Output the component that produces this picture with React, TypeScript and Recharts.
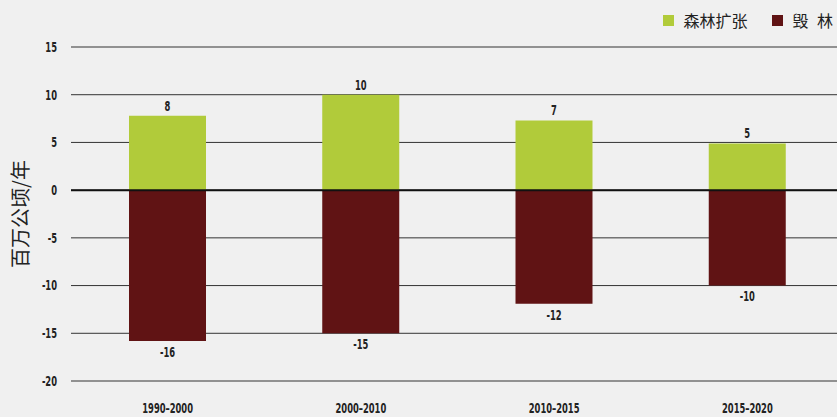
import React from "react";
import { BarChart, Bar, XAxis, YAxis, CartesianGrid, ReferenceLine, LabelList, Legend } from "recharts";

const periods = ["1990–2000", "2000–2010", "2010–2015", "2015–2020"];
const expansion = [7.8, 10.0, 7.3, 4.9];
const deforestation = [-15.8, -15.0, -11.9, -10.0];
const yTicks = [-20, -15, -10, -5, 0, 5, 10, 15];

const GREEN = "#b1cb3a";
const RED = "#601314";
const TEXT = "#222222";
const NUM_FONT = "'DejaVu Sans', sans-serif";
const CJK_FONT = "'Noto Sans CJK SC', 'Noto Sans', sans-serif";
const NUM_SIZE = 13.5;
const SQUEEZE = 0.62;
const CAP = NUM_SIZE * 0.73;

const data = periods.map((p, i) => ({ period: p, expansion: expansion[i], deforestation: deforestation[i] }));

const legendItems = [
  { label: "森林扩张", color: GREEN },
  { label: "毁 林", color: RED },
];

const CondText = ({ x, y, value, anchor }: { x: number; y: number; value: any; anchor: "start" | "middle" | "end" }) => (
  <text
    transform={`translate(${x},${y}) scale(${SQUEEZE},1)`}
    textAnchor={anchor}
    fill={TEXT}
    fontFamily={NUM_FONT}
    fontSize={NUM_SIZE}
    fontWeight={700}
  >
    {value}
  </text>
);

const XTick = (props: any) => <CondText x={props.x} y={413} value={props.payload.value} anchor="middle" />;
const YTick = (props: any) => <CondText x={props.x} y={props.y + CAP / 2} value={props.payload.value} anchor="end" />;

const BarLabel = (props: any) => {
  const vb = props.viewBox || props;
  const x = Number(vb.x);
  const y = Number(vb.y);
  const w = Number(vb.width);
  const h = Number(vb.height);
  const top = Math.min(y, y + h);
  const bottom = Math.max(y, y + h);
  const v = Math.round(Number(props.value));
  const cx = x + w / 2;
  if (v >= 0) return <CondText x={cx} y={top - 5} value={String(v)} anchor="middle" />;
  return <CondText x={cx} y={bottom + 6 + CAP} value={String(v)} anchor="middle" />;
};

const LegendContent = () => (
  <div style={{ height: 30, display: "flex", justifyContent: "flex-end", alignItems: "flex-start", fontFamily: CJK_FONT, fontSize: 16, color: TEXT }}>
    {legendItems.map((it, i) => (
      <div key={i} style={{ display: "flex", alignItems: "center", marginLeft: i === 0 ? 0 : 25, lineHeight: "20px" }}>
        <span style={{ display: "inline-block", width: 11, height: 11, background: it.color, marginRight: 9 }} />
        <span style={{ wordSpacing: 5 }}>{it.label}</span>
      </div>
    ))}
  </div>
);

export default function App() {
  return (
    <div style={{ position: "fixed", left: 0, top: 0, width: 837, height: 417, overflow: "hidden", background: "#f0f0f0" }}>
      <BarChart
        width={850}
        height={417}
        data={data}
        stackOffset="sign"
        margin={{ top: 17, right: 6, bottom: 0, left: 0 }}
        barSize={77}
      >
        <Legend verticalAlign="top" align="right" content={<LegendContent />} wrapperStyle={{ top: 10, right: 17, width: 300, left: "auto" }} />
        <CartesianGrid vertical={false} stroke="#333333" strokeWidth={1} />
        <XAxis
          dataKey="period"
          axisLine={false}
          tickLine={false}
          height={36}
          tickSize={0}
          tickMargin={0}
          interval={0}
          tick={<XTick />}
        />
        <YAxis
          width={71}
          domain={[-20, 15]}
          ticks={yTicks}
          axisLine={false}
          tickLine={false}
          tickSize={0}
          tickMargin={14}
          interval={0}
          tick={<YTick />}
          label={{ value: "百万公顷/年", angle: -90, position: "center", dx: -15, style: { fontFamily: CJK_FONT, fontSize: 20, fill: TEXT } }}
        />
        <Bar dataKey="expansion" stackId="a" fill={GREEN} isAnimationActive={false}>
          <LabelList dataKey="expansion" content={<BarLabel />} />
        </Bar>
        <Bar dataKey="deforestation" stackId="a" fill={RED} isAnimationActive={false}>
          <LabelList dataKey="deforestation" content={<BarLabel />} />
        </Bar>
        <ReferenceLine y={0} stroke="#111111" strokeWidth={2} />
      </BarChart>
    </div>
  );
}
